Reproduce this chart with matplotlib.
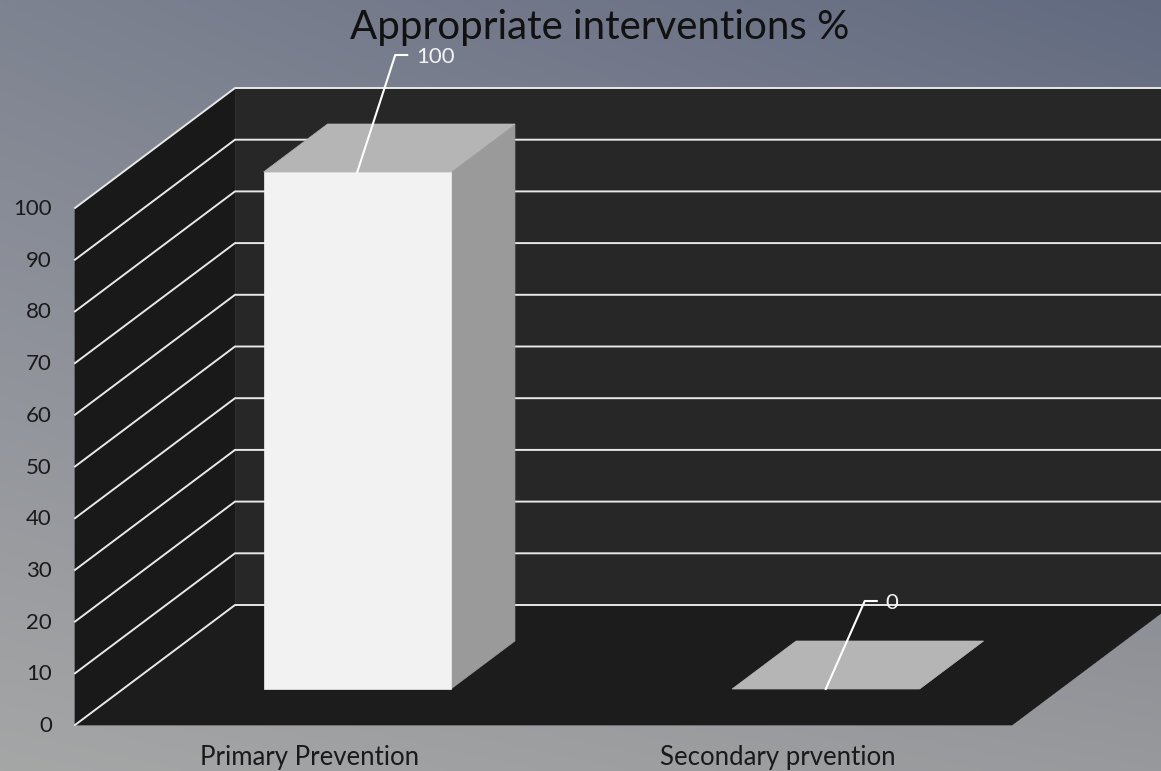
import numpy as np
import matplotlib
matplotlib.use('Agg')
from matplotlib import pyplot as plt
from matplotlib.patches import Polygon

plt.rcParams['font.family'] = ['Lato', 'DejaVu Sans']

categories = ['Primary Prevention', 'Secondary prvention']
values = [100, 0]
labels = ['100', '0']
ticks = [0, 10, 20, 30, 40, 50, 60, 70, 80, 90, 100]
title = 'Appropriate interventions %'

# selitysviivan taite suhteessa pylvään yläreunaan (pikseleinä)
leader_dx = [38, 39]
leader_dy = [-117, -88]


# oblique projection: category position, value, depth (0 front, 1 back) -> pixels
def proj(c, v, d):
    return 75 + c * 468.5 + d * 160, 725 - v * 5.17 - d * 120


def face(pts, color, zorder=2):
    ax.add_patch(Polygon([proj(*p) for p in pts], closed=True, facecolor=color,
                         edgecolor=color, linewidth=0.5, zorder=zorder))


fig = plt.figure(figsize=(11.61, 7.71), dpi=100)
ax = fig.add_axes([0, 0, 1, 1])
ax.set_xlim(0, 1161)
ax.set_ylim(771, 0)
ax.axis('off')

# taustan liukuväri
tl, tr = np.array([126, 131, 145]), np.array([98, 106, 128])
bl, br = np.array([165, 166, 166]), np.array([152, 153, 156])
u, w = np.meshgrid(np.linspace(0, 1, 300), np.linspace(0, 1, 200))
u, w = u[..., None], w[..., None]
bg = (tl * (1 - u) + tr * u) * (1 - w) + (bl * (1 - u) + br * u) * w
ax.imshow(bg / 255, extent=(0, 1161, 771, 0), interpolation='bilinear', aspect='auto', zorder=0)

n = len(categories)
top = ticks[-1]

# seinät ja lattia
face([(0, 0, 0), (0, top, 0), (0, top, 1), (0, 0, 1)], '#191919', 1)
face([(0, 0, 1), (0, top, 1), (n, top, 1), (n, 0, 1)], '#272727', 1)
face([(0, 0, 0), (0, 0, 1), (n, 0, 1), (n, 0, 0)], '#1c1c1c', 1)

# ruudukko
for t in ticks:
    xs, ys = zip(proj(0, t, 0), proj(0, t, 1), proj(n, t, 1))
    ax.plot(xs, ys, color='#e8e8e8', lw=1.4, zorder=1.5, solid_joinstyle='miter')
    x0, y0 = proj(0, t, 0)
    ax.text(x0 - 23, y0 + 1, str(t), color='#1a1a1a', fontsize=16, ha='right', va='center', zorder=5)

# pylväät
bw = 0.4
d0, d1 = 0.3, 0.7
for i, v in enumerate(values):
    l = i + 0.5 - bw / 2
    r = i + 0.5 + bw / 2
    face([(r, 0, d0), (r, v, d0), (r, v, d1), (r, 0, d1)], '#9a9a9a', 3)
    face([(l, v, d0), (l, v, d1), (r, v, d1), (r, v, d0)], '#b5b5b5', 3)
    if v > 0:
        face([(l, 0, d0), (l, v, d0), (r, v, d0), (r, 0, d0)], '#f2f2f2', 3)

    # arvon selitysviiva
    cx = i + 0.5
    sx, sy = proj(cx, v, d0)
    ex, ey = sx + leader_dx[i], sy + leader_dy[i]
    ax.plot([sx, ex, ex + 12], [sy, ey, ey], color='white', lw=1.5, zorder=4)
    ax.text(ex + 21, ey + 2, labels[i], color='#f2f2f2', fontsize=16, ha='left', va='center', zorder=5)

    bx, by = proj(cx, 0, 0)
    ax.text(bx, by + 32, categories[i], color='#1a1a1a', fontsize=18.5, ha='center', va='center', zorder=5)

ax.text(600, 28, title, color='#111111', fontsize=29, ha='center', va='center', zorder=5)

fig.savefig('out.png', dpi=100)
